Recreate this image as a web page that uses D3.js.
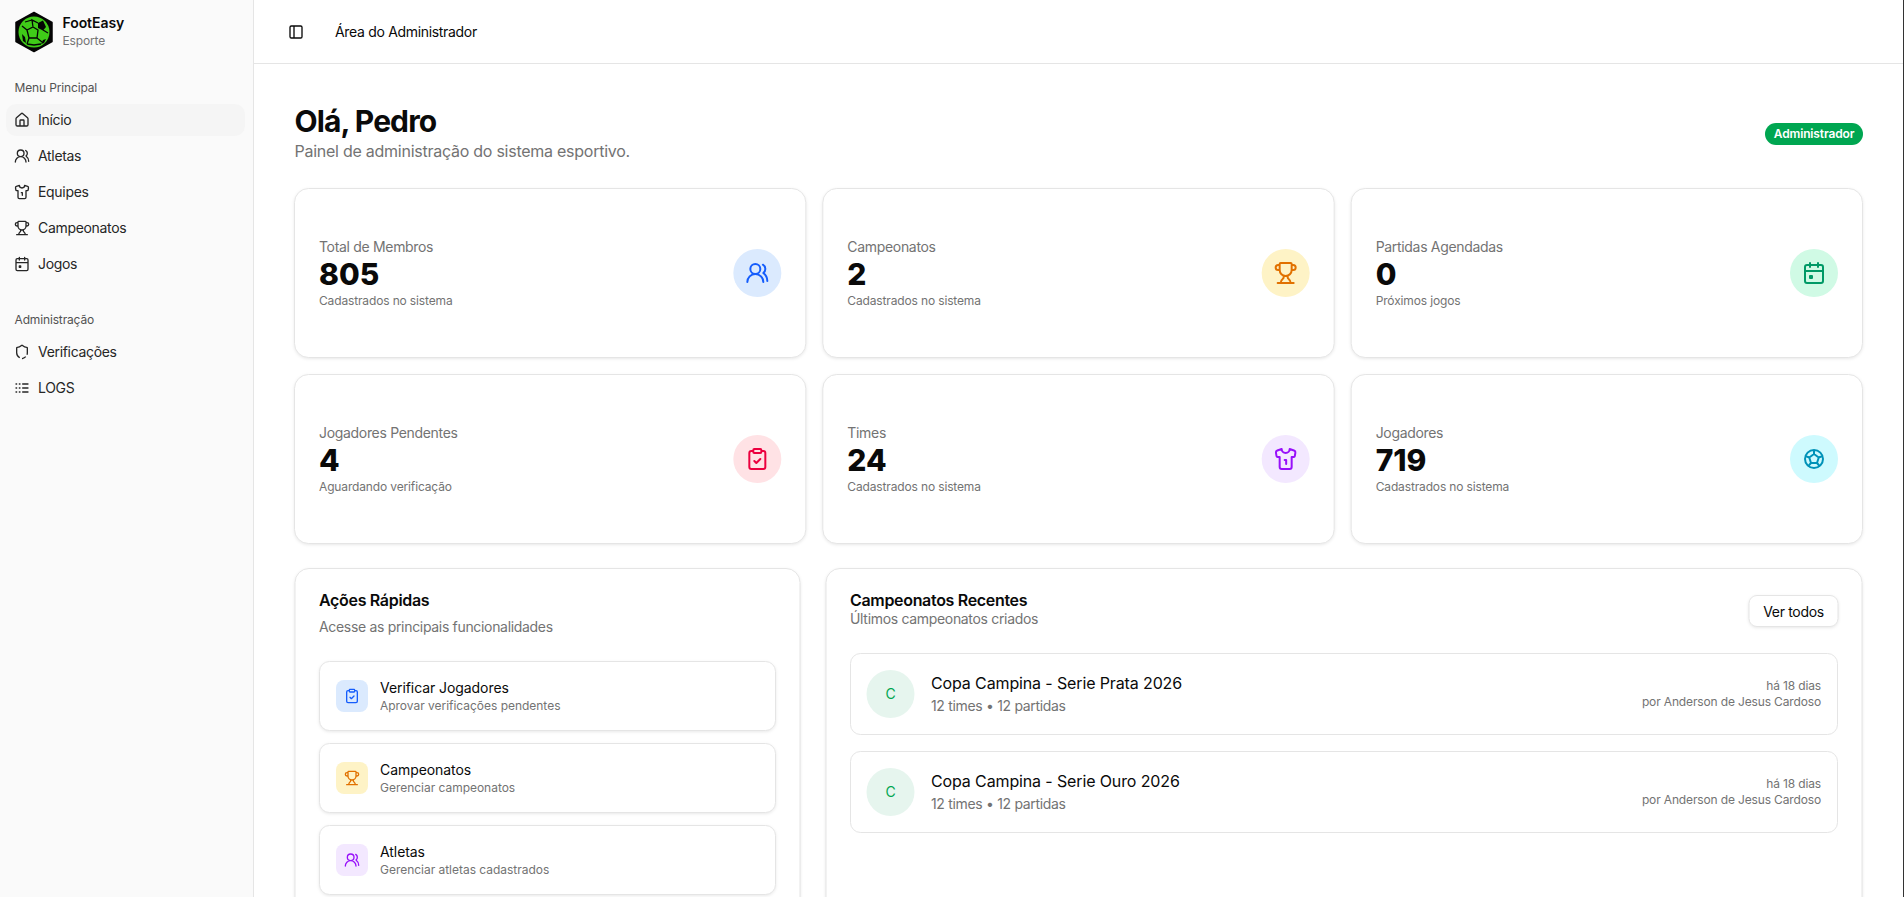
<!DOCTYPE html>
<meta charset="utf-8">
<script src="https://d3js.org/d3.v7.min.js"></script>
<style>
  html, body { margin: 0; padding: 0; background: #fff; overflow: hidden; }
  svg { display: block; font-family: Inter, "Noto Sans", sans-serif; letter-spacing: -0.02em; }
  .card { fill: #fff; stroke: #e5e5e5; filter: drop-shadow(0 1px 1.5px rgba(0,0,0,.09)); }
  .muted { fill: #737373; }
  .fg { fill: #0a0a0a; }
  .ic { fill: none; stroke-width: 2; stroke-linecap: round; stroke-linejoin: round; }
</style>
<div id="my_dataviz"></div>
<script>
  // Sidebar
  var menuPrincipal = ["Início", "Atletas", "Equipes", "Campeonatos", "Jogos"];
  var menuPrincipalIcons = ["house", "users", "shirt", "trophy", "calendar"];
  var menuAdmin = ["Verificações", "LOGS"];
  var menuAdminIcons = ["shield", "logs"];

  // Stat cards
  var statLabels = ["Total de Membros", "Campeonatos", "Partidas Agendadas", "Jogadores Pendentes", "Times", "Jogadores"];
  var statValues = [805, 2, 0, 4, 24, 719];
  var statNotes = ["Cadastrados no sistema", "Cadastrados no sistema", "Próximos jogos", "Aguardando verificação", "Cadastrados no sistema", "Cadastrados no sistema"];
  var statIcons = ["users", "trophy", "calendar", "clipboard", "shirt", "ball"];
  var statStroke = ["#155dfc", "#e17100", "#009966", "#ec003f", "#9810fa", "#0092b8"];
  var statFill = ["#dbeafe", "#fef3c6", "#d0fae5", "#ffe2e5", "#f3e8ff", "#cefafe"];

  // Quick actions
  var actionTitles = ["Verificar Jogadores", "Campeonatos", "Atletas"];
  var actionNotes = ["Aprovar verificações pendentes", "Gerenciar campeonatos", "Gerenciar atletas cadastrados"];
  var actionIcons = ["clipboard", "trophy", "users"];
  var actionStroke = ["#155dfc", "#e17100", "#9810fa"];
  var actionFill = ["#dbeafe", "#fef3c6", "#f3e8ff"];

  // Recent championships
  var champNames = ["Copa Campina - Serie Prata 2026", "Copa Campina - Serie Ouro 2026"];
  var champTeams = [12, 12];
  var champMatches = [12, 12];
  var champAges = ["há 18 dias", "há 18 dias"];
  var champAuthors = ["por Anderson de Jesus Cardoso", "por Anderson de Jesus Cardoso"];

  // lucide style icons, 24x24 box
  var iconPaths = {
    house: "M15 21v-8a1 1 0 0 0-1-1h-4a1 1 0 0 0-1 1v8M3 10a2 2 0 0 1 .709-1.528l7-5.999a2 2 0 0 1 2.582 0l7 5.999A2 2 0 0 1 21 10v9a2 2 0 0 1-2 2H5a2 2 0 0 1-2-2z",
    users: "M18 21a8 8 0 0 0-16 0M15 8a5 5 0 1 1-10 0a5 5 0 1 1 10 0M22 20c0-3.37-2-6.5-4-8a5 5 0 0 0-.45-8.3",
    shirt: "M20.38 3.46 16 2a4 4 0 0 1-8 0L3.62 3.46a2 2 0 0 0-1.34 2.23l.58 3.47a1 1 0 0 0 .99.84H6v10c0 1.1.9 2 2 2h8a2 2 0 0 0 2-2V10h2.15a1 1 0 0 0 .99-.84l.58-3.47a2 2 0 0 0-1.34-2.23zM11 13h1.5v4",
    trophy: "M10 14.66v1.626a2 2 0 0 1-.976 1.696A5 5 0 0 0 7 21.978M14 14.66v1.626a2 2 0 0 0 .976 1.696A5 5 0 0 1 17 21.978M18 9h1.5a1 1 0 0 0 0-5H18M4 22h16M6 9a6 6 0 0 0 12 0V3a1 1 0 0 0-1-1H7a1 1 0 0 0-1 1zM6 9H4.5a1 1 0 0 1 0-5H6",
    calendar: "M8 2v4M16 2v4M3 10h18M5 4h14a2 2 0 0 1 2 2v14a2 2 0 0 1-2 2H5a2 2 0 0 1-2-2V6a2 2 0 0 1 2-2zM8 15h2v2H8z",
    clipboard: "M9 2h6a1 1 0 0 1 1 1v2a1 1 0 0 1-1 1H9a1 1 0 0 1-1-1V3a1 1 0 0 1 1-1zM16 4h2a2 2 0 0 1 2 2v14a2 2 0 0 1-2 2H6a2 2 0 0 1-2-2V6a2 2 0 0 1 2-2h2M9 14l2 2 4-4",
    ball: "M21 12a9 9 0 1 1-18 0a9 9 0 1 1 18 0M12 7l4.76 3.45l-1.76 5.55h-6l-1.76-5.55zM12 7V3M15 16l2.5 3M16.76 10.45l3.74-1.45M9 16l-2.56 2.95M7.24 10.45L3.5 9",
    shield: "M20 13c0 5-3.5 7.5-7.66 8.95a1 1 0 0 1-.67-.01C7.5 20.5 4 18 4 13V6a1 1 0 0 1 1-1c2 0 4.5-1.2 6.24-2.72a1.17 1.17 0 0 1 1.52 0C14.51 3.81 17 5 19 5a1 1 0 0 1 1 1z",
    logs: "M13 12h8M13 18h8M13 6h8M3 12h1M3 18h1M3 6h1M8 12h1M8 18h1M8 6h1",
    panel: "M5 3h14a2 2 0 0 1 2 2v14a2 2 0 0 1-2 2H5a2 2 0 0 1-2-2V5a2 2 0 0 1 2-2zM9 3v18"
  };

  var width = 1904, height = 897;
  var svg = d3.select("#my_dataviz").append("svg")
    .attr("width", width)
    .attr("height", height);

  function label(g, x, y, txt, size, weight, cls, anchor) {
    return g.append("text")
      .attr("x", x).attr("y", y)
      .attr("class", cls || "fg")
      .attr("text-anchor", anchor || "start")
      .style("font-size", size + "px")
      .style("font-weight", weight || 400)
      .style("letter-spacing", size == 12 ? "-0.012em" : null)
      .text(txt);
  }

  function icon(g, name, cx, cy, size, color) {
    var s = size / 24;
    var p = g.append("path")
      .attr("class", "ic")
      .attr("transform", "translate(" + (cx - size / 2) + "," + (cy - size / 2) + ") scale(" + s + ")")
      .attr("d", iconPaths[name])
      .attr("stroke", color);
    // the shield in the reference has gaps near its lower corners
    if (name == "shield") p.attr("stroke-dasharray", "3 3.5 6.5 3.5 80 0").style("stroke-linecap", "butt");
    return p;
  }

  // Sidebar
  var side = svg.append("g");
  side.append("rect").attr("width", 253).attr("height", height).attr("fill", "#fafafa");
  side.append("line").attr("x1", 253.5).attr("x2", 253.5).attr("y1", 0).attr("y2", height).attr("stroke", "#e5e5e5");

  // logo
  var logo = side.append("g").attr("transform", "translate(34,32)");
  logo.append("path").attr("d", "M0 -19.5 L18 -9.5 V9.5 L0 19.5 L-18 9.5 V-9.5 Z")
    .attr("fill", "#050505").attr("stroke", "#050505").attr("stroke-width", 1.5).attr("stroke-linejoin", "round");
  logo.append("circle").attr("r", 15.5).attr("fill", "#3fcb18");
  logo.append("path").attr("fill", "#050505")
    .attr("d", "M4 -9 L9 -11.5 L12 -5 L9 -1.5 L4 -4 Z M-12 2 L-9 5 L-8 11 L-11 9 Z M9 8 L12 7 L10 11 L7 12 Z");
  logo.append("path").attr("fill", "none").attr("stroke", "#050505").attr("stroke-width", 1.3)
    .attr("d", "M-7 -2 L-1 -5 L4 -2 L3 6 L-5 6 Z M-1 -5 L-2 -12 L4 -9 M-7 -2 L-12 -6 M3 6 L8 10 M-5 6 L-7 12 M9 -2 L14 1 M-2 -12 L-9 -10 M7 12 L0 13 L-7 12");

  label(side, 62.5, 28, "FootEasy", 14, 600).style("letter-spacing", "-0.005em");
  label(side, 62.5, 45, "Esporte", 12, 400, "muted");

  var rowY = d3.scaleLinear().domain([0, 1]).range([120, 156]);
  side.append("rect").attr("x", 6).attr("y", 104).attr("width", 239).attr("height", 32).attr("rx", 10).attr("fill", "#f5f5f5");
  label(side, 14.5, 92, "Menu Principal", 12, 400).style("fill", "#525252");
  menuPrincipal.forEach(function (d, i) {
    icon(side, menuPrincipalIcons[i], 22, rowY(i), 16, "#262626");
    label(side, 38, rowY(i) + 5, d, 14, 400).style("fill", "#262626");
  });
  var adminY = d3.scaleLinear().domain([0, 1]).range([352, 388]);
  label(side, 14.5, 324, "Administração", 12, 400).style("fill", "#525252");
  menuAdmin.forEach(function (d, i) {
    icon(side, menuAdminIcons[i], 22, adminY(i), 16, "#262626");
    label(side, 38, adminY(i) + 5, d, 14, 400).style("fill", "#262626");
  });

  // Top bar
  svg.append("line").attr("x1", 254).attr("x2", width).attr("y1", 63.5).attr("y2", 63.5).attr("stroke", "#e5e5e5");
  icon(svg, "panel", 296, 32, 16, "#0a0a0a");
  label(svg, 335, 37, "Área do Administrador", 14, 400);

  // Heading
  label(svg, 294.5, 132, "Olá, Pedro", 30, 700).style("letter-spacing", "-0.03em");
  label(svg, 294.5, 157, "Painel de administração do sistema esportivo.", 16, 400, "muted").style("letter-spacing", "-0.016em");
  svg.append("rect").attr("x", 1765).attr("y", 123).attr("width", 98).attr("height", 22).attr("rx", 11).attr("fill", "#00a651");
  label(svg, 1814, 138, "Administrador", 12, 600, "", "middle").style("fill", "#fff");

  // Stat cards
  var col = d3.scaleBand().domain([0, 1, 2]).range([294, 1863]).paddingInner(0.0303);
  var row = d3.scaleBand().domain([0, 1]).range([188, 544]).paddingInner(0.086);

  var stats = svg.selectAll(".stat").data(statLabels).enter().append("g")
    .attr("class", "stat")
    .attr("transform", function (d, i) { return "translate(" + col(i % 3) + "," + row(Math.floor(i / 3)) + ")"; });

  stats.each(function (d, i) {
    var g = d3.select(this), w = col.bandwidth(), h = row.bandwidth();
    g.append("rect").attr("class", "card").attr("x", .5).attr("y", .5).attr("width", w - 1).attr("height", h - 1).attr("rx", 14);
    label(g, 25, 64, d, 14, 400, "muted");
    label(g, 25, 97, statValues[i], 30, 800).style("letter-spacing", "0");
    label(g, 25, 117, statNotes[i], 12, 400, "muted");
    g.append("circle").attr("cx", w - 49).attr("cy", 85).attr("r", 24).attr("fill", statFill[i]);
    icon(g, statIcons[i], w - 49, 85, 24, statStroke[i]);
  });

  // Quick actions panel
  var quick = svg.append("g").attr("transform", "translate(294.5,568)");
  quick.append("rect").attr("class", "card").attr("x", .5).attr("y", .5).attr("width", 505).attr("height", 500).attr("rx", 14);
  label(quick, 24.5, 38, "Ações Rápidas", 16, 600);
  label(quick, 24.5, 64, "Acesse as principais funcionalidades", 14, 400, "muted");

  var actionY = d3.scaleBand().domain([0, 1, 2]).range([93, 327]).paddingInner(0.146);
  var actions = quick.selectAll(".action").data(actionTitles).enter().append("g")
    .attr("class", "action")
    .attr("transform", function (d, i) { return "translate(24.5," + actionY(i) + ")"; });
  actions.each(function (d, i) {
    var g = d3.select(this), h = actionY.bandwidth();
    g.append("rect").attr("class", "card").attr("x", .5).attr("y", .5).attr("width", 456).attr("height", h - 1).attr("rx", 10);
    g.append("rect").attr("x", 17).attr("y", 19).attr("width", 32).attr("height", 32).attr("rx", 8).attr("fill", actionFill[i]);
    icon(g, actionIcons[i], 33, 35, 16, actionStroke[i]);
    label(g, 61, 32, d, 14, 400).style("letter-spacing", "-0.005em");
    label(g, 61, 49, actionNotes[i], 12, 400, "muted").style("letter-spacing", "-0.002em");
  });

  // Recent championships panel
  var recent = svg.append("g").attr("transform", "translate(825.5,568)");
  recent.append("rect").attr("class", "card").attr("x", .5).attr("y", .5).attr("width", 1036).attr("height", 500).attr("rx", 14);
  label(recent, 24.5, 38, "Campeonatos Recentes", 16, 600);
  label(recent, 24.5, 56, "Últimos campeonatos criados", 14, 400, "muted");
  recent.append("rect").attr("class", "card").attr("x", 923.5).attr("y", 27.5).attr("width", 89).attr("height", 31).attr("rx", 8);
  label(recent, 968, 48.5, "Ver todos", 14, 400, "", "middle");

  var champY = d3.scaleBand().domain([0, 1]).range([85, 265]).paddingInner(0.163);
  var champs = recent.selectAll(".champ").data(champNames).enter().append("g")
    .attr("class", "champ")
    .attr("transform", function (d, i) { return "translate(24.5," + champY(i) + ")"; });
  champs.each(function (d, i) {
    var g = d3.select(this), h = champY.bandwidth();
    g.append("rect").attr("x", .5).attr("y", .5).attr("width", 987).attr("height", h - 1).attr("rx", 10)
      .attr("fill", "#fff").attr("stroke", "#e5e5e5");
    g.append("circle").attr("cx", 40.5).attr("cy", 41).attr("r", 24).attr("fill", "#e6f5ee");
    label(g, 40.5, 46, d[0], 14, 400, "", "middle").style("fill", "#00a651");
    label(g, 81, 36, d, 16, 400).style("letter-spacing", "-0.008em");
    label(g, 81, 58, champTeams[i] + " times • " + champMatches[i] + " partidas", 14, 400, "muted");
    label(g, 971, 37, champAges[i], 12, 400, "muted", "end");
    label(g, 971, 53, champAuthors[i], 12, 400, "muted", "end");
  });

  // thin dark line on the right edge of the window
  svg.append("rect").attr("x", 1903).attr("width", 1).attr("height", height).attr("fill", "#333");
</script>
